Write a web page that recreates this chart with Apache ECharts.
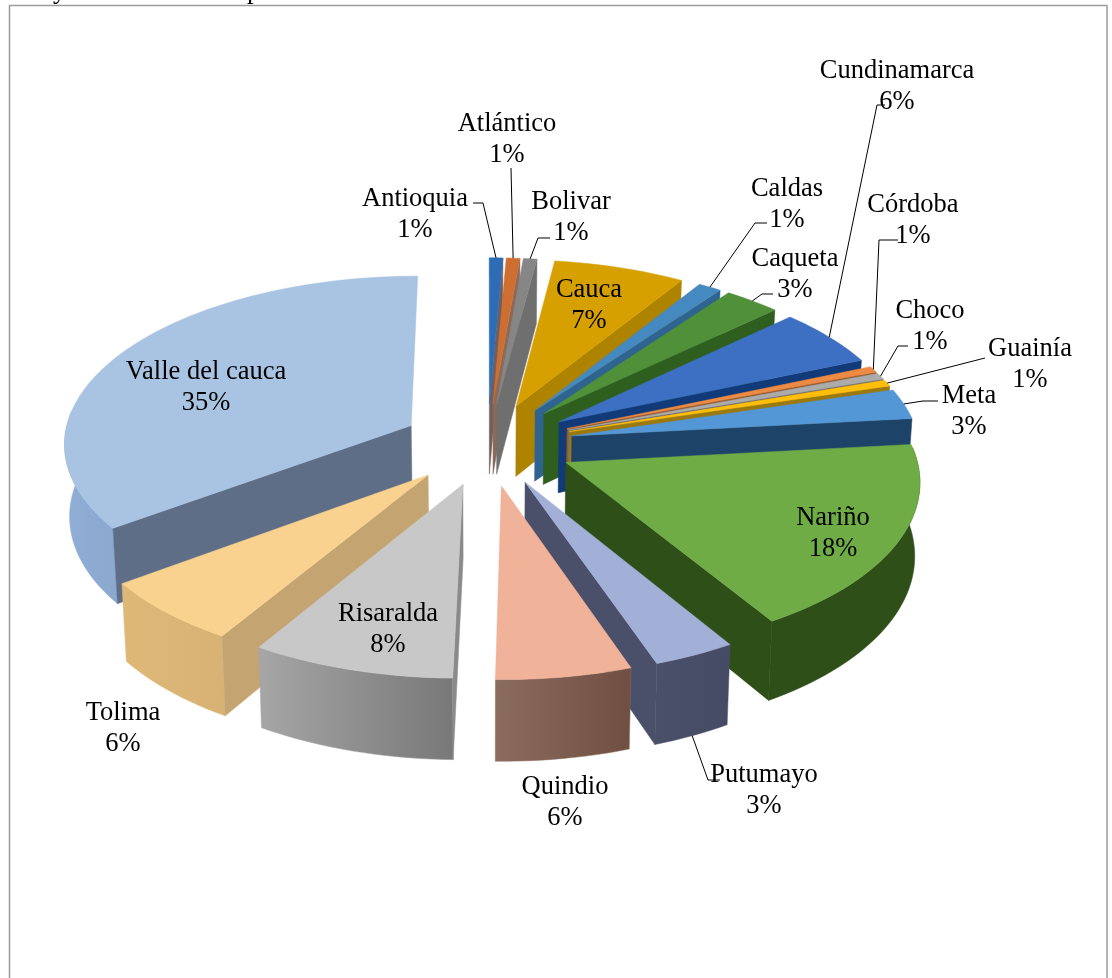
<!DOCTYPE html>
<html><head><meta charset="utf-8">
<style>html,body{margin:0;padding:0;background:#fff}#c{width:1112px;height:978px}</style>
<script src="https://cdn.jsdelivr.net/npm/echarts@6/dist/echarts.min.js"></script>
</head><body><div id="c"></div>
<script>
// ---- data (share of total, %) ----
const categories = ['Antioquia','Atlántico','Bolivar','Cauca','Caldas','Caqueta','Cundinamarca','Córdoba','Choco','Guainía','Meta','Nariño','Putumayo','Quindio','Risaralda','Tolima','Valle del cauca'];
const shares = [0.7,0.7,0.7,6.8,1.2,2.9,5.6,0.6,0.6,0.6,2.9,18.0,3.4,5.6,8.4,6.2,35.1];

// ---- styles ----
const topColors  = ['#2E6CB5','#CE6F31','#868686','#D6A100','#4489BF','#4F9038','#3D70C2','#ED8A43','#ABABAB','#FFBE0A','#5397D6','#6FAC46','#A2AFD6','#F1B29A','#C8C8C8','#F9D28F','#A9C3E3'];
const wallColors = ['#6F5F60','#8A6A58','#6F6F6F','#AD8300','#2E648F','#2E5F1E','#103A78','#8F5628','#6D6D6D','#9A7A10','#1D4468','#2F4F18','#4A5069','#6E4F42','#8A8A8A','#C4A470','#5E6E87'];
const rimColors  = [['#1F4A7C','#1F4A7C'],['#8A4A20','#8A4A20'],['#5C5C5C','#5C5C5C'],['#8C6A00','#8C6A00'],['#2E648F','#2E648F'],['#2E5F1E','#2E5F1E'],['#103A78','#103A78'],['#8F5628','#8F5628'],['#6D6D6D','#6D6D6D'],['#9A7A10','#9A7A10'],['#1D4468','#1D4468'],['#2F4F18','#2F4F18'],['#4A5069','#454B65'],['#8C6C5E','#6E4F42'],['#A6A6A6','#787878'],['#DDB877','#D8B274'],['#8FAED6','#8BA8CE']];

// ---- layout of labels: [label centre x, first line y, leader elbow, leader end, wall fraction at leader start] ----
const labelPlaces = [
 [415,214.5,[483,203],[473,203],0],[507,139.5,null,[511,168],0],[571,217.5,[538,238],[550,238],0],
 [589,305.5],[787,204.5,[755,223],[767,223],0],[795,274.5,[762,294],[773,294],0],
 [897,86.5,[877,105],[885,105],0],[913,220.5,[879,240],[898,240],0],[930,326.5,[898,346],[908,346],0],
 [1030,364.5,null,[985,358],0],[969,411.5,[923,401],[938,401],0],[833,533.5],
 [764,790.5,[708,780],[720,780],1],[565,802.5],[388,629.5],[123,728.5],[206,387.5]
];

// ---- projection of the tilted, exploded pie ----
const CX=487.5, CY=444, R=348, A=167, P=0.095, EXPLODE=0.247, DEPTH=72, BOTTOM_SHRINK=0.988;
const total = shares.reduce((a,b)=>a+b,0);
let run=0;
const slices = shares.map((v,i)=>{const a0=run/total*2*Math.PI; run+=v; const a1=run/total*2*Math.PI; return {i,a0,a1,m:(a0+a1)/2};});
function proj(s,th,r,low){
  const X=EXPLODE*350/R*Math.sin(s.m)+r*Math.sin(th), Y=-EXPLODE*Math.cos(s.m)-r*Math.cos(th);
  const k=1/(1-P*Y), z=low?DEPTH:0, q=low?BOTTOM_SHRINK:1;
  return [CX+R*X*k*q, CY+(A*Y+z)*k];
}
function arc(s,a,b,low){
  const n=Math.max(2,Math.ceil((b-a)/0.03)), pts=[];
  for(let j=0;j<=n;j++) pts.push(proj(s,a+(b-a)*j/n,1,low));
  return pts;
}
const D2R=Math.PI/180;
function sliceShapes(s){
  const ch=[], G=echarts.graphic;
  const lo=Math.max(s.a0,85*D2R), hi=Math.min(s.a1,275*D2R);
  if(hi>lo){
    const top=arc(s,lo,hi,false), bot=arc(s,lo,hi,true).reverse();
    const pts=top.concat(bot), xs=pts.map(p=>p[0]);
    const c=rimColors[s.i];
    ch.push({type:'polygon',shape:{points:pts},style:{fill:new G.LinearGradient(Math.min(...xs),0,Math.max(...xs),0,[{offset:0,color:c[0]},{offset:1,color:c[1]}],true),stroke:c[0],lineWidth:0.5}});
  }
  const wall=(th)=>({type:'polygon',shape:{points:[proj(s,th,0,false),proj(s,th,1,false),proj(s,th,1,true),proj(s,th,0,true)]},style:{fill:wallColors[s.i],stroke:wallColors[s.i],lineWidth:0.5}});
  if(Math.sin(s.a0)<0) ch.push(wall(s.a0));
  if(Math.sin(s.a1)>0) ch.push(wall(s.a1));
  const top=[proj(s,0,0,false)].concat(arc(s,s.a0,s.a1,false));
  ch.push({type:'polygon',shape:{points:top},style:{fill:topColors[s.i],stroke:topColors[s.i],lineWidth:0.5}});
  return ch;
}
const drawOrder = slices.slice().sort((a,b)=>(-Math.cos(a.m))-(-Math.cos(b.m))).map(s=>s.i);

const chart = echarts.init(document.getElementById('c'),null,{renderer:'canvas'});
chart.setOption({
  animation:false,
  backgroundColor:'#fff',
  graphic:[
    {type:'rect',shape:{x:9.5,y:5.5,width:1097.5,height:975},style:{fill:'none',stroke:'#9c9c9c',lineWidth:1.5},z:0},
    {type:'text',x:53,y:-22,style:{text:'y',font:'26.5px "Liberation Serif"',fill:'#000'},z:1},
    {type:'text',x:247,y:-22,style:{text:'p',font:'26.5px "Liberation Serif"',fill:'#000'},z:1}
  ],
  series:[
    {type:'custom',coordinateSystem:'none',silent:true,z:2,data:drawOrder.map(i=>[i]),
     renderItem:(p,api)=>({type:'group',children:sliceShapes(slices[api.value(0)])})},
    {type:'custom',coordinateSystem:'none',silent:true,z:3,data:categories.map((c,i)=>[i]),
     renderItem:(p,api)=>{
       const i=api.value(0), s=slices[i], pl=labelPlaces[i], ch=[];
       if(pl.length>2){
         const pts=[proj(s,s.m,1,pl[4]===1)];
         if(pl[2]) pts.push(pl[2]);
         pts.push(pl[3]);
         ch.push({type:'polyline',shape:{points:pts},style:{fill:'none',stroke:'#000',lineWidth:1}});
       }
       ch.push({type:'text',style:{x:pl[0],y:pl[1],text:categories[i]+'\n'+Math.round(shares[i]/total*100)+'%',
         align:'center',verticalAlign:'middle',font:'26.5px "Liberation Serif"',lineHeight:31,fill:'#000'}});
       return {type:'group',children:ch};
     }}
  ]
});
</script></body></html>
